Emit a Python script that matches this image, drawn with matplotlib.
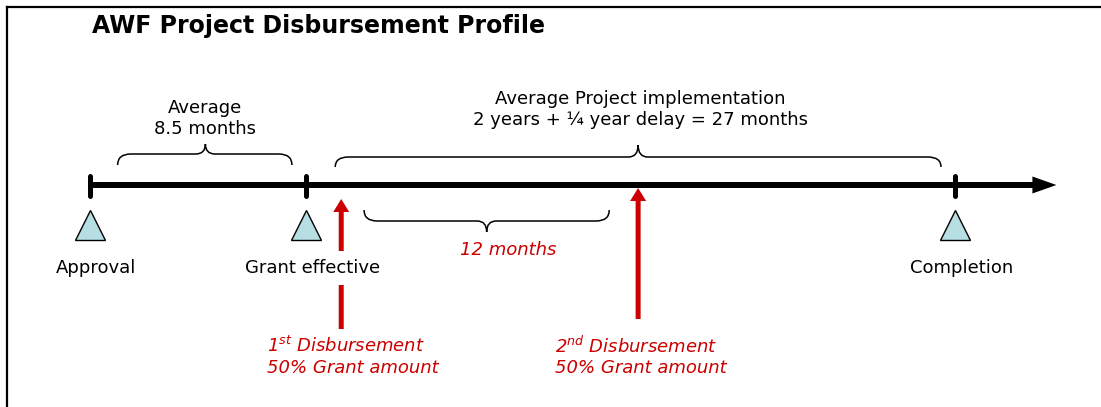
import matplotlib
matplotlib.use("Agg")
import matplotlib.pyplot as plt
from matplotlib.path import Path
from matplotlib.patches import PathPatch
from matplotlib.lines import Line2D

plt.rcParams['font.family'] = ['DejaVu Sans']
plt.rcParams['mathtext.fontset'] = 'custom'
plt.rcParams['mathtext.it'] = 'DejaVu Sans:italic'
plt.rcParams['mathtext.rm'] = 'DejaVu Sans:italic'

# ---------------- data (schematic months) ----------------
title = "AWF Project Disbursement Profile"
milestone_names = ["Approval", "Grant effective", "Completion"]
milestone_month = [0.0, 9.0, 36.0]
timeline_end = 40.2

disb_labels = ["1$^{st}$ Disbursement\n50% Grant amount",
               "2$^{nd}$ Disbursement\n50% Grant amount"]
disb_month = [10.45, 22.8]

brace_labels = ["Average\n8.5 months",
                "Average Project implementation\n2 years + \u00bc year delay = 27 months",
                "12 months"]
brace_start = [1.15, 10.2, 11.4]
brace_end = [8.4, 35.4, 21.6]
brace_tip = [4.8, 22.8, 16.5]

RED = "#CC0000"
TRI = "#B7DEE2"
FS = 13

# ---------------- figure ----------------
W, H = 1101, 407
fig = plt.figure(figsize=(W / 100, H / 100), dpi=100)
ax = fig.add_axes([0, 0, 1, 1])
X0, S = 90.0, 24.04  # pixel of month 0, pixels per month
ax.set_xlim(-X0 / S, (W - X0) / S)
ax.set_ylim(H, 0)
ax.axis("off")

# frame (top and left edges only)
fig.add_artist(Line2D([7 / W, 7 / W], [0, 1 - 7 / H], color="black", lw=1.6))
fig.add_artist(Line2D([7 / W, 1], [1 - 7 / H, 1 - 7 / H], color="black", lw=1.6))

Y_LINE = 185

# timeline with arrow head
ax.arrow(milestone_month[0], Y_LINE, timeline_end - milestone_month[0], 0,
         width=6, head_width=17, head_length=24 / S, length_includes_head=True,
         color="black", lw=0, zorder=3)

# milestone ticks, triangles, labels
for name, m in zip(milestone_names, milestone_month):
    ax.plot([m, m], [176, 195.5], color="black", lw=3.6, solid_capstyle="round", zorder=4)
    ax.plot([m], [224.5], marker="^", ms=22, mfc=TRI, mec="black", mew=1.0, zorder=4)
    ax.text(m + 6 / S, 273, name, ha="center", va="baseline", fontsize=FS,
            color="black", zorder=6,
            bbox=dict(facecolor="white", edgecolor="none", pad=6))

# disbursement arrows
arrow_bottom = [329, 319]
arrow_top = [199, 188]
label_left_offset = [74, 83]
for lab, m, yb, yt, off in zip(disb_labels, disb_month, arrow_bottom, arrow_top,
                               label_left_offset):
    ax.arrow(m, yb, 0, yt - yb, width=5 / S, head_width=16 / S, head_length=13,
             length_includes_head=True, color=RED, lw=0, zorder=5)
    ax.text(m - off / S, 373, lab, ha="left", va="baseline", fontsize=FS,
            style="italic", color=RED, linespacing=1.18)


def brace(x0, x1, xt, y_end, y_arm, y_tip, r=0.55, rt=0.4):
    verts = [(x0, y_end), (x0, y_arm), (x0 + r, y_arm),
             (xt - rt, y_arm),
             (xt, y_arm), (xt, y_tip),
             (xt, y_arm), (xt + rt, y_arm),
             (x1 - r, y_arm),
             (x1, y_arm), (x1, y_end)]
    codes = [Path.MOVETO, Path.CURVE3, Path.CURVE3,
             Path.LINETO,
             Path.CURVE3, Path.CURVE3,
             Path.CURVE3, Path.CURVE3,
             Path.LINETO,
             Path.CURVE3, Path.CURVE3]
    ax.add_patch(PathPatch(Path(verts, codes), facecolor="none",
                           edgecolor="black", lw=1.1))


# braces: (y_end, y_arm, y_tip)
brace_y = [(165, 154, 144), (167, 157, 145), (210, 221, 232)]
for x0, x1, xt, (ye, ya, yt) in zip(brace_start, brace_end, brace_tip, brace_y):
    brace(x0, x1, xt, ye, ya, yt)

# brace labels
ax.text(brace_tip[0], 134, brace_labels[0], ha="center", va="baseline",
        fontsize=FS, linespacing=1.18)
ax.text(brace_tip[1] + 2 / S, 125, brace_labels[1], ha="center", va="baseline",
        fontsize=FS, linespacing=1.18)
ax.text(brace_tip[2] + 22 / S, 255, brace_labels[2], ha="center", va="baseline",
        fontsize=FS, style="italic", color=RED)

# title
ax.text(92 / S - X0 / S, 33, title, ha="left", va="baseline",
        fontsize=17, fontweight="bold")

fig.savefig("out.png", dpi=100)
